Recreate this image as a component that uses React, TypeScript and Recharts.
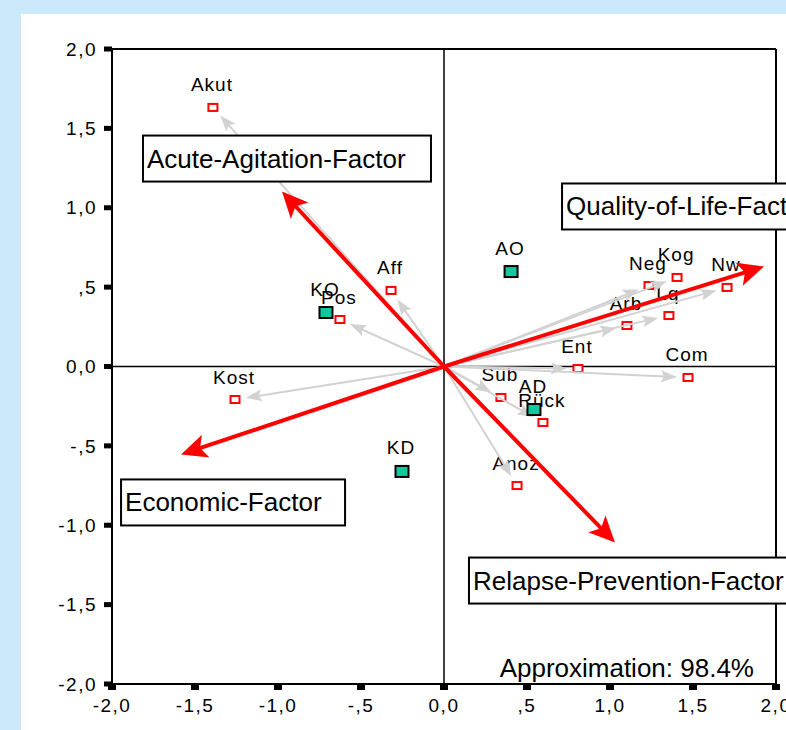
import React from "react";
import { ScatterChart, Scatter, XAxis, YAxis, ReferenceLine } from "recharts";

const FONT = "'Liberation Sans', Arial, sans-serif";

// axis ticks (SPSS style comma decimals)
const tickValues = [-2, -1.5, -1, -0.5, 0, 0.5, 1, 1.5, 2];
const tickLabels = ["-2,0", "-1,5", "-1,0", "-,5", "0,0", ",5", "1,0", "1,5", "2,0"];

// variables (red squares, grey arrows)
const variableNames = ["Akut", "Aff", "Pos", "Kost", "Neg", "Kog", "Nw", "Lq", "Arb", "Ent", "Com", "Sub", "Rück", "Anoz"];
const variableX = [-1.392, -0.319, -0.627, -1.259, 1.235, 1.404, 1.705, 1.355, 1.102, 0.807, 1.47, 0.343, 0.596, 0.44];
const variableY = [1.632, 0.479, 0.296, -0.208, 0.51, 0.561, 0.498, 0.321, 0.258, -0.013, -0.069, -0.195, -0.353, -0.75];

// groups (green squares)
const groupNames = ["AO", "KO", "KD", "AD"];
const groupX = [0.404, -0.711, -0.253, 0.542];
const groupY = [0.598, 0.34, -0.661, -0.271];

// factor axes (red arrows)
const factorNames = ["Acute-Agitation-Factor", "Quality-of-Life-Factor", "Economic-Factor", "Relapse-Prevention-Factor"];
const factorX = [-0.976, 1.928, -1.584, 1.03];
const factorY = [1.102, 0.63, -0.554, -1.109];

const approximation = "Approximation: 98.4%";

// label box placement relative to the arrow tip (pixels)
const boxLayout = [
  { dx: -139, dy: -56, w: 288 },
  { dx: -202, dy: -83, w: 250 },
  { dx: -60, dy: 25, w: 224 },
  { dx: -146, dy: 15, w: 330 },
];

const variables = variableNames.map((name, i) => ({ name, x: variableX[i], y: variableY[i] }));
const groups = groupNames.map((name, i) => ({ name, x: groupX[i], y: groupY[i] }));
const factors = factorNames.map((name, i) => ({ name, index: i, x: factorX[i], y: factorY[i] }));

const makeArrow =
  (color: string, width: number, headLen: number, headHalf: number, notch: number, gap: number) =>
  (props: any) => {
    const pts = props.points;
    if (!pts || pts.length < 2) return <g />;
    const a = pts[0];
    const b = pts[1];
    const dx = b.x - a.x;
    const dy = b.y - a.y;
    const len = Math.hypot(dx, dy) || 1;
    const ux = dx / len;
    const uy = dy / len;
    const px = -uy;
    const py = ux;
    const tx = b.x - ux * gap;
    const ty = b.y - uy * gap;
    const bx = tx - ux * headLen;
    const by = ty - uy * headLen;
    const nx = tx - ux * notch;
    const ny = ty - uy * notch;
    const head = [
      `${tx},${ty}`,
      `${bx + px * headHalf},${by + py * headHalf}`,
      `${nx},${ny}`,
      `${bx - px * headHalf},${by - py * headHalf}`,
    ].join(" ");
    return (
      <g>
        <line x1={a.x} y1={a.y} x2={nx + ux} y2={ny + uy} stroke={color} strokeWidth={width} />
        <polygon points={head} fill={color} />
      </g>
    );
  };

const greyArrow = makeArrow("#d2d2d2", 2, 16, 6, 13, 11);
const redArrow = makeArrow("#ff0000", 4, 26, 12, 20, 0);

const Nothing = () => <g />;

const VariablePoint = (props: any) => {
  const { cx, cy, payload } = props;
  return (
    <g>
      <text x={cx - 1} y={cy - 16} textAnchor="middle" fontSize={19} letterSpacing={1} fontFamily={FONT} fill="#000">
        {payload.name}
      </text>
      <rect x={cx - 4.5} y={cy - 3.5} width={9} height={7} fill="#fff" stroke="#ff0000" strokeWidth={2} />
    </g>
  );
};

const GroupPoint = (props: any) => {
  const { cx, cy, payload } = props;
  return (
    <g>
      <text x={cx - 1} y={cy - 17} textAnchor="middle" fontSize={19} letterSpacing={1} fontFamily={FONT} fill="#000">
        {payload.name}
      </text>
      <rect x={cx - 6.5} y={cy - 5.5} width={13} height={11} fill="#10c99d" stroke="#000" strokeWidth={2} />
    </g>
  );
};

const FactorBox = (props: any) => {
  const { cx, cy, payload } = props;
  const b = boxLayout[payload.index];
  return (
    <g>
      <rect x={cx + b.dx} y={cy + b.dy} width={b.w} height={46} fill="#fff" stroke="#000" strokeWidth={2} />
      <text x={cx + b.dx + 4} y={cy + b.dy + 32} fontSize={26} fontFamily={FONT} fill="#000">
        {payload.name}
      </text>
    </g>
  );
};

const ApproxText = (props: any) => {
  const { cx, cy } = props;
  return (
    <text x={cx - 22} y={cy - 7} textAnchor="end" fontSize={26} fontFamily={FONT} fill="#000">
      {approximation}
    </text>
  );
};

const XTick = (props: any) => {
  const { x, y, payload } = props;
  return (
    <text x={x} y={y} dy="0.71em" textAnchor="middle" fontSize={19} letterSpacing={1.5} fontFamily={FONT} fill="#000">
      {tickLabels[tickValues.indexOf(payload.value)]}
    </text>
  );
};

const YTick = (props: any) => {
  const { x, y, payload } = props;
  return (
    <text x={x} y={y} dy="0.355em" textAnchor="end" fontSize={19} letterSpacing={1.5} fontFamily={FONT} fill="#000">
      {tickLabels[tickValues.indexOf(payload.value)]}
    </text>
  );
};

export default function App() {
  return (
    <div style={{ position: "absolute", left: 0, top: 0, width: 786, height: 730, background: "#cce9fc", overflow: "hidden" }}>
      <div style={{ position: "absolute", left: 21, top: 14, right: 0, bottom: 0, background: "#fff" }} />
      <div style={{ position: "absolute", left: 0, top: 0 }}>
        <ScatterChart width={786} height={730} margin={{ top: 49, right: 10, bottom: 0, left: 0 }}>
          <XAxis
            type="number"
            dataKey="x"
            domain={[-2, 2]}
            ticks={tickValues}
            interval={0}
            axisLine={{ stroke: "#000", strokeWidth: 2 }}
            tickLine={{ stroke: "#000", strokeWidth: 8 }}
            tickSize={6}
            tickMargin={9}
            height={46}
            tick={<XTick />}
          />
          <YAxis
            type="number"
            dataKey="y"
            domain={[-2, 2]}
            ticks={tickValues}
            interval={0}
            axisLine={{ stroke: "#000", strokeWidth: 2 }}
            tickLine={{ stroke: "#000", strokeWidth: 5 }}
            tickSize={8}
            tickMargin={7}
            width={112}
            tick={<YTick />}
          />
          <ReferenceLine y={2} stroke="#000" strokeWidth={2} />
          <ReferenceLine x={2} stroke="#000" strokeWidth={2} />
          <ReferenceLine y={0} stroke="#000" strokeWidth={1.5} />
          <ReferenceLine x={0} stroke="#000" strokeWidth={1.5} />

          <Scatter data={variables} shape={<VariablePoint />} isAnimationActive={false} />

          {variables.map((v) => (
            <Scatter
              key={"g-" + v.name}
              data={[{ x: 0, y: 0 }, { x: v.x, y: v.y }]}
              line={greyArrow}
              lineType="joint"
              shape={<Nothing />}
              isAnimationActive={false}
            />
          ))}

          <Scatter data={groups} shape={<GroupPoint />} isAnimationActive={false} />

          {factors.map((f) => (
            <Scatter
              key={"r-" + f.name}
              data={[{ x: 0, y: 0 }, { x: f.x, y: f.y }]}
              line={redArrow}
              lineType="joint"
              shape={<Nothing />}
              isAnimationActive={false}
            />
          ))}

          <Scatter data={factors} shape={<FactorBox />} isAnimationActive={false} />
          <Scatter data={[{ x: 2, y: -2 }]} shape={<ApproxText />} isAnimationActive={false} />
        </ScatterChart>
      </div>
    </div>
  );
}
